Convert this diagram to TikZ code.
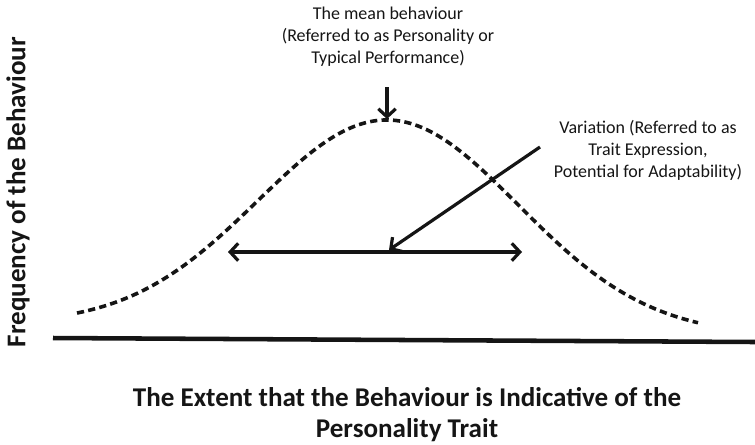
\documentclass[tikz,border=0pt]{standalone}
\usepackage{fontspec}
\setmainfont{Carlito}
\usetikzlibrary{arrows.meta}
\definecolor{ink}{HTML}{151515}
\tikzset{
  curve/.style={ink, line width=2.7pt, dash pattern=on 5.4pt off 3.2pt},
  axis/.style={ink, line width=3.4pt},
  arr/.style={ink, line width=2.4pt, -{Straight Barb[length=6pt,width=13pt,line width=2.4pt]}},
  darr/.style={ink, line width=2.4pt, {Straight Barb[length=6pt,width=13pt,line width=2.4pt]}-{Straight Barb[length=6pt,width=13pt,line width=2.4pt]}},
  note/.style={text=ink, font=\fontsize{13.5}{16.6}\selectfont, align=center, inner sep=0pt},
  axislabel/.style={text=ink, font=\bfseries\fontsize{20.3}{23.3}\selectfont, align=center, inner sep=0pt}
}
\begin{document}
\begin{tikzpicture}[x=0.75pt,y=-0.75pt]
\useasboundingbox (0,0) rectangle (755,444);
% baseline
\coordinate (b1) at (53,338);
\coordinate (b2) at (755,342);
\draw[axis] (b1) -- (b2);
% bell curve
\draw[curve, domain=77:698, samples=120, smooth] plot (\x, {120 + 210*(1-exp(-0.5*((\x-388)/130)^2)) + 0.016*(\x-388)});
% labels
\node[note] (mean) at (388,37) {The mean behaviour\\(Referred to as Personality or\\Typical Performance)};
\node[note] (var) at (648,150) {Variation (Referred to as\\Trait Expression,\\Potential for Adaptability)};
\node[axislabel] (xlab) at (407,415) {The Extent that the Behaviour is Indicative of the\\Personality Trait};
\node[axislabel, rotate=90] (ylab) at (18,192) {Frequency of the Behaviour};
% arrows
\coordinate (m1) at (387,87);
\coordinate (peak) at (387,119);
\draw[arr] (m1) -- (peak);
\coordinate (l) at (228,252);
\coordinate (r) at (522,252);
\draw[darr] (l) -- (r);
\coordinate (v1) at (540,147);
\coordinate (mid) at (389,250);
\draw[arr] (v1) -- (mid);
\end{tikzpicture}
\end{document}
